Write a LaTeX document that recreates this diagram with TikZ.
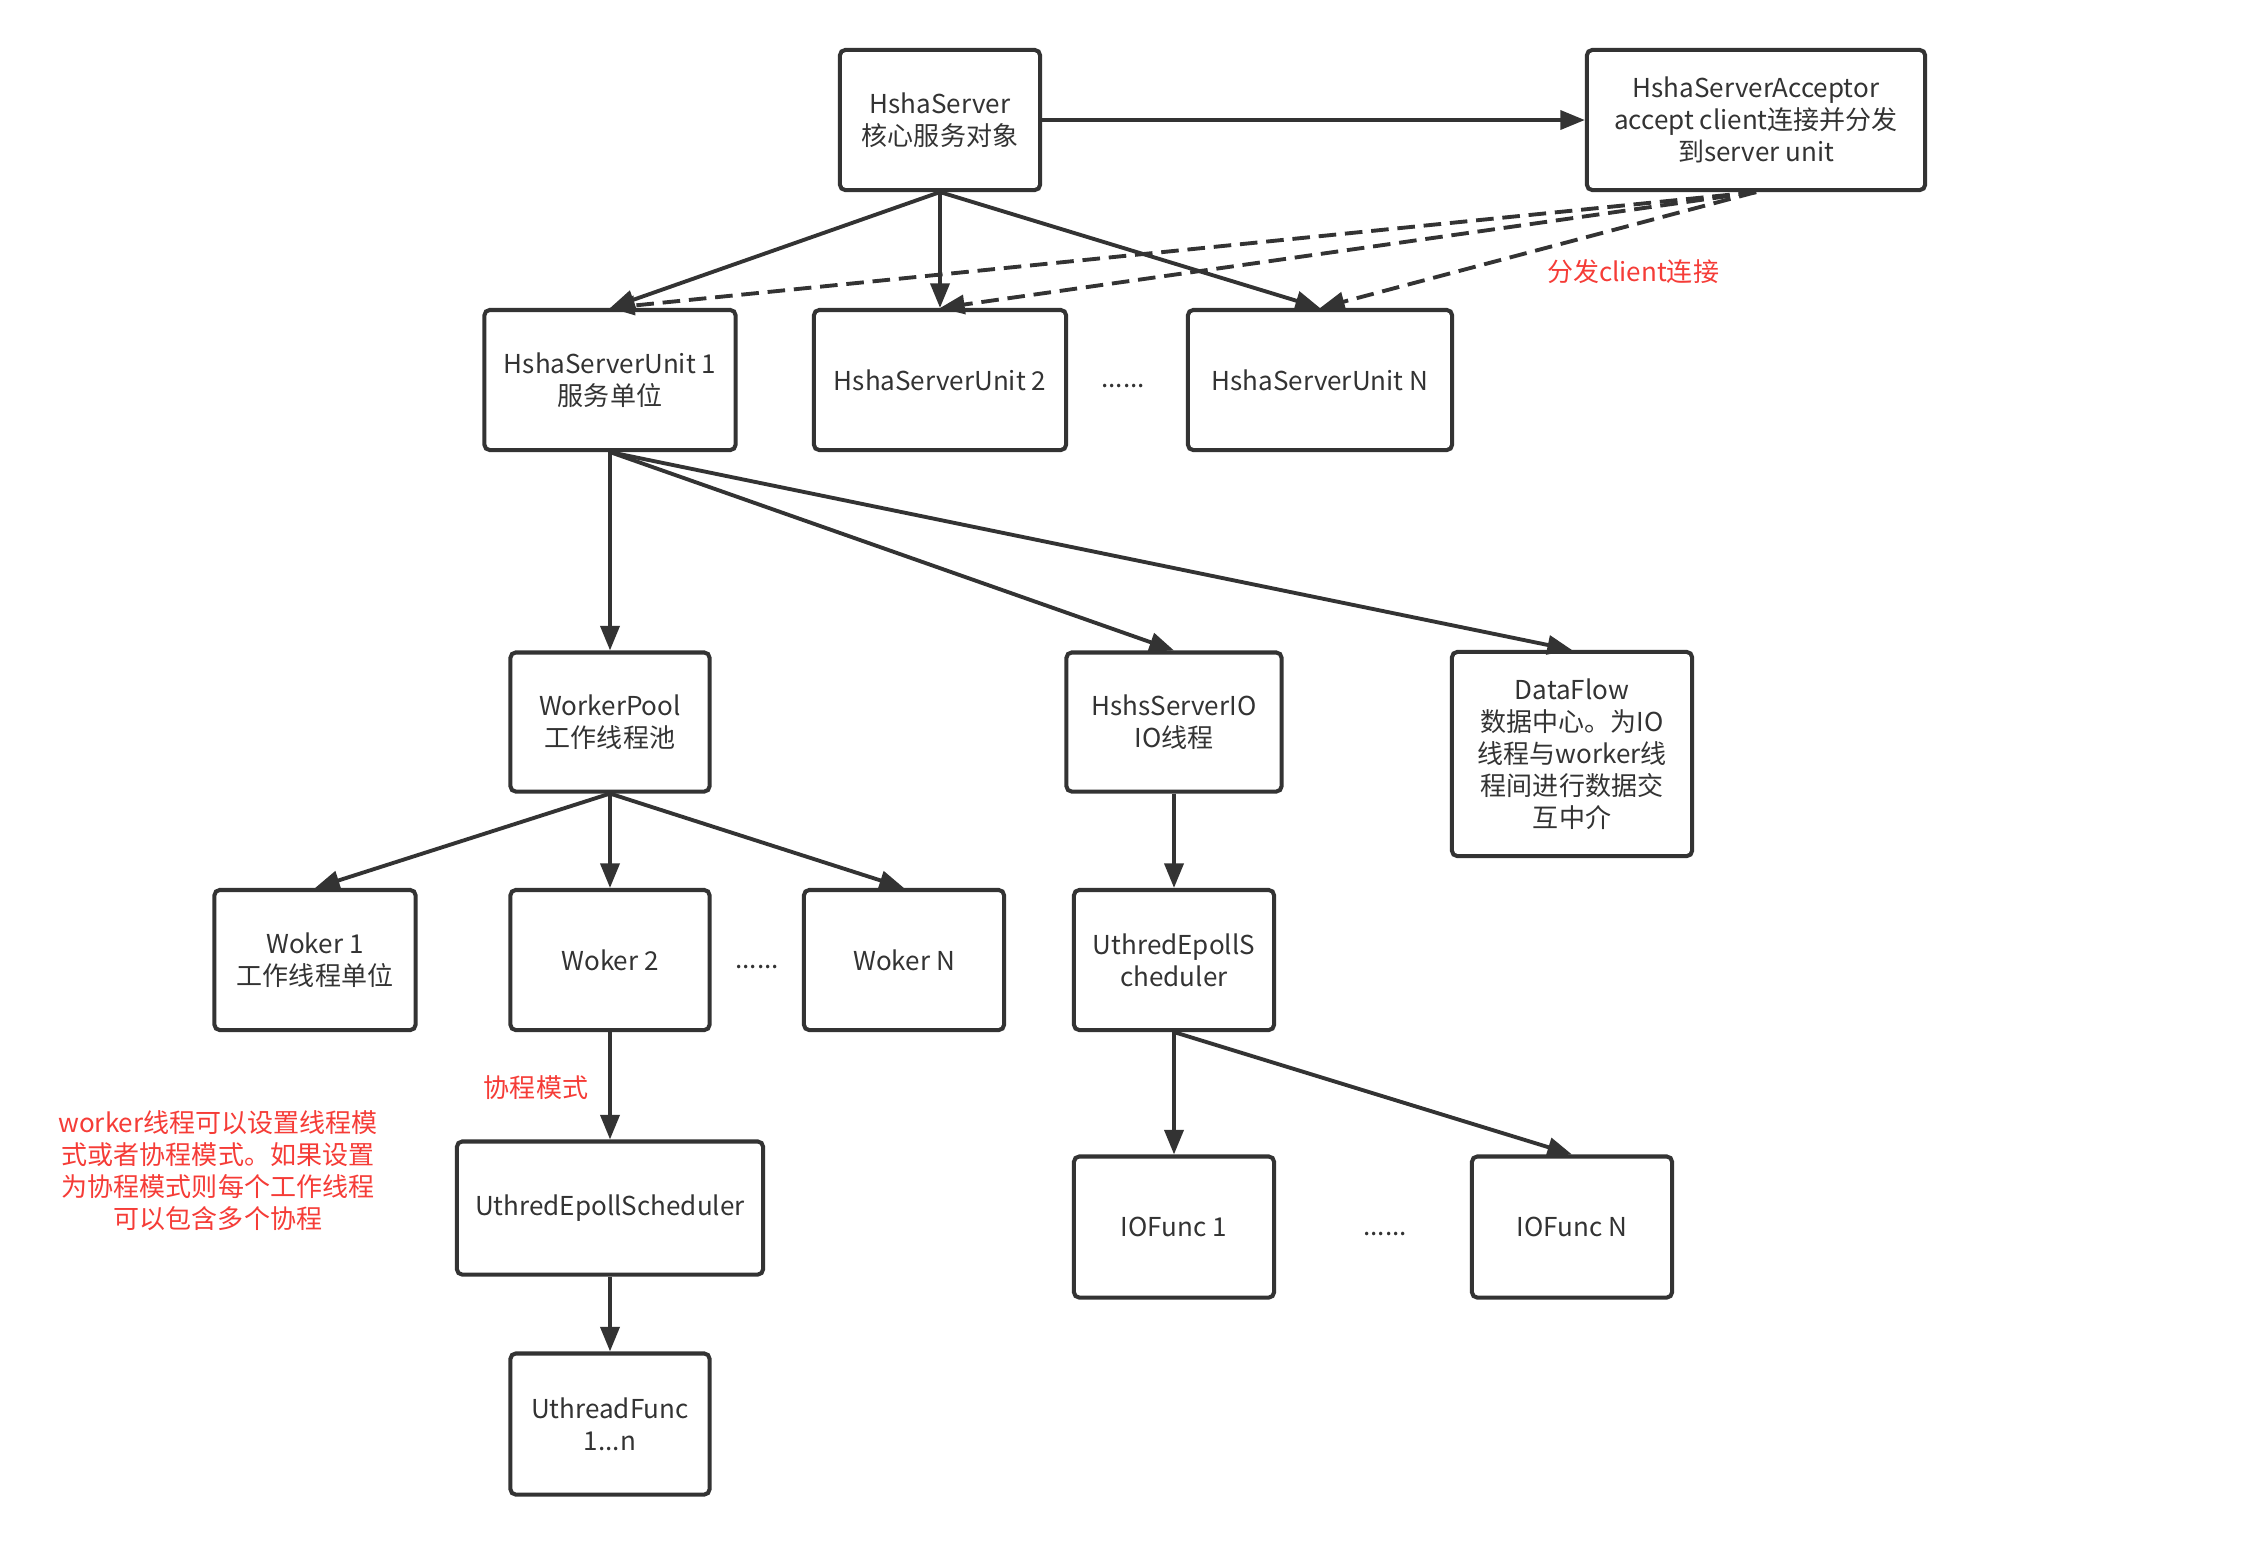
\documentclass[tikz,border=0pt]{standalone}
\usepackage{fontspec}
\setmainfont{Noto Sans CJK SC}
\usetikzlibrary{arrows.meta}
\definecolor{inkgray}{RGB}{51,51,51}
\definecolor{notered}{RGB}{245,60,55}

\begin{document}
\begin{tikzpicture}[x=0.01cm, y=-0.01cm,
    box/.style={draw=inkgray, line width=1.15pt, rounded corners=1.5pt, align=center, inner sep=0pt, text=inkgray, font=\fontsize{7.4}{9.1}\selectfont},
    wire/.style={draw=inkgray, line width=1.1pt, -{Triangle[length=7pt,width=5.4pt]}},
    dashwire/.style={wire, dash pattern=on 5pt off 2.5pt},
    note/.style={text=notered, align=center, inner sep=0pt, font=\fontsize{7.4}{9.1}\selectfont},
    dots/.style={text=inkgray, inner sep=0pt, font=\fontsize{7.4}{9.1}\selectfont}]
    \useasboundingbox (0,0) rectangle (2252,1544);
    % Nodes:
    \node[box, minimum width=2.00cm, minimum height=1.40cm] (server) at (940,120) {HshaServer\\核心服务对象};
    \node[box, minimum width=3.38cm, minimum height=1.40cm] (acceptor) at (1756,120) {HshaServerAcceptor\\accept client连接并分发\\到server unit};
    \node[box, minimum width=2.51cm, minimum height=1.40cm] (unitA) at (610,380) {HshaServerUnit 1\\服务单位};
    \node[box, minimum width=2.52cm, minimum height=1.40cm] (unitB) at (940,380) {HshaServerUnit 2};
    \node[box, minimum width=2.64cm, minimum height=1.40cm] (unitN) at (1320,380) {HshaServerUnit N};
    \node[dots] (unitdots) at (1123,386) {......};
    \node[box, minimum width=1.99cm, minimum height=1.39cm] (pool) at (610,722) {WorkerPool\\工作线程池};
    \node[box, minimum width=2.15cm, minimum height=1.39cm] (ioserver) at (1174,722) {HshsServerIO\\IO线程};
    \node[box, minimum width=2.40cm, minimum height=2.04cm] (dataflow) at (1572,754) {DataFlow\\数据中心。为IO\\线程与worker线\\程间进行数据交\\互中介};
    \node[box, minimum width=2.01cm, minimum height=1.40cm] (wokerA) at (315,960) {Woker 1\\工作线程单位};
    \node[box, minimum width=1.99cm, minimum height=1.40cm] (wokerB) at (610,960) {Woker 2};
    \node[box, minimum width=2.00cm, minimum height=1.40cm] (wokerN) at (904,960) {Woker N};
    \node[dots] (wokerdots) at (757,967) {......};
    \node[box, minimum width=2.00cm, minimum height=1.40cm] (iosched) at (1174,960) {UthredEpollS\\cheduler};
    \node[box, minimum width=3.06cm, minimum height=1.33cm] (uthsched) at (610,1208) {UthredEpollScheduler};
    \node[box, minimum width=1.99cm, minimum height=1.41cm] (uthfunc) at (610,1424) {UthreadFunc\\1...n};
    \node[box, minimum width=2.00cm, minimum height=1.41cm] (iofuncA) at (1174,1227) {IOFunc 1};
    \node[box, minimum width=2.00cm, minimum height=1.41cm] (iofuncN) at (1572,1227) {IOFunc N};
    \node[dots] (iodots) at (1385,1234) {......};
    \node[note] (splitnote) at (1633,272) {分发client连接};
    \node[note] (coronote) at (536,1088) {协程模式};
    \node[note] (workernote) at (218,1171) {worker线程可以设置线程模\\式或者协程模式。如果设置\\为协程模式则每个工作线程\\可以包含多个协程};
    % Wires:
    \draw[wire] (server.east) -- (acceptor.west);
    \draw[wire] (server.south) -- (unitA.north);
    \draw[wire] (server.south) -- (unitB.north);
    \draw[wire] (server.south) -- (unitN.north);
    \draw[dashwire] (acceptor.south) -- (unitA.north);
    \draw[dashwire] (acceptor.south) -- (unitB.north);
    \draw[dashwire] (acceptor.south) -- (unitN.north);
    \draw[wire] (unitA.south) -- (pool.north);
    \draw[wire] (unitA.south) -- (ioserver.north);
    \draw[wire] (unitA.south) -- (dataflow.north);
    \draw[wire] (pool.south) -- (wokerA.north);
    \draw[wire] (pool.south) -- (wokerB.north);
    \draw[wire] (pool.south) -- (wokerN.north);
    \draw[wire] (ioserver.south) -- (iosched.north);
    \draw[wire] (iosched.south) -- (iofuncA.north);
    \draw[wire] (iosched.south) -- (iofuncN.north);
    \draw[wire] (wokerB.south) -- (uthsched.north);
    \draw[wire] (uthsched.south) -- (uthfunc.north);
\end{tikzpicture}
\end{document}
